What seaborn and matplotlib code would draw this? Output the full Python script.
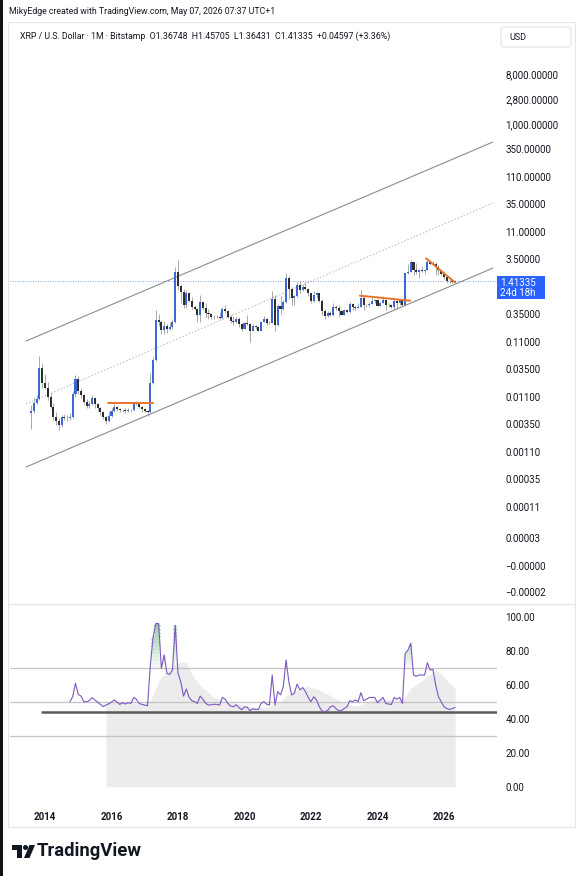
import numpy as np
import pandas as pd
import matplotlib
matplotlib.use('Agg')
import matplotlib.pyplot as plt
from matplotlib.patches import Rectangle, FancyBboxPatch, Circle, Polygon
from matplotlib.ticker import NullLocator
import seaborn as sns

# --- monthly XRP / USD candles (Bitstamp), Aug 2013 .. May 2026 ---
first_month = '2013-08-01'
first_open = 0.0056
closes = [
    0.0060, 0.0085, 0.0101, 0.036, 0.0195,
    0.016, 0.011, 0.0073, 0.0048, 0.0040, 0.0033, 0.0047, 0.0046, 0.0045, 0.0047, 0.0125, 0.023,
    0.0140, 0.0118, 0.0090, 0.0074, 0.0080, 0.0105, 0.0080, 0.0068, 0.0058, 0.0048, 0.0040, 0.0050,
    0.0061, 0.0072, 0.0066, 0.0062, 0.0063, 0.0061, 0.0063, 0.0062, 0.0085, 0.0082, 0.0072, 0.0065,
    0.0061, 0.0057, 0.0195, 0.051, 0.27, 0.25, 0.18, 0.21, 0.19, 0.20, 0.25, 2.05,
    1.12, 0.90, 0.51, 0.84, 0.61, 0.47, 0.44, 0.33, 0.58, 0.46, 0.37, 0.35,
    0.31, 0.31, 0.31, 0.30, 0.43, 0.40, 0.31, 0.26, 0.25, 0.29, 0.23, 0.19,
    0.24, 0.23, 0.17, 0.21, 0.20, 0.175, 0.25, 0.28, 0.24, 0.24, 0.67, 0.22,
    0.50, 0.44, 0.57, 1.60, 1.00, 0.70, 0.75, 1.18, 0.95, 1.09, 1.02, 0.83,
    0.61, 0.78, 0.83, 0.60, 0.40, 0.32, 0.37, 0.34, 0.48, 0.46, 0.39, 0.34,
    0.41, 0.38, 0.54, 0.47, 0.46, 0.47, 0.70, 0.51, 0.51, 0.54, 0.60, 0.62,
    0.50, 0.55, 0.63, 0.51, 0.52, 0.47, 0.60, 0.56, 0.64, 0.52, 1.97, 2.08,
    3.11, 2.19, 2.08, 2.20, 2.14, 2.18, 3.08, 2.85, 2.84, 2.50, 2.20, 1.85,
    1.65, 1.42, 1.37, 1.36748, 1.41335,
]
highs = [
    0.0078, 0.0105, 0.0120, 0.060, 0.045,
    0.028, 0.020, 0.013, 0.0085, 0.0058, 0.0045, 0.0052, 0.0054, 0.0052, 0.0055, 0.0140, 0.027,
    0.026, 0.0160, 0.0125, 0.0098, 0.0092, 0.0120, 0.0110, 0.0085, 0.0072, 0.0060, 0.0050, 0.0058,
    0.0070, 0.0082, 0.0075, 0.0068, 0.0066, 0.0070, 0.0068, 0.0067, 0.0090, 0.0092, 0.0085, 0.0075,
    0.0068, 0.0063, 0.030, 0.058, 0.42, 0.35, 0.27, 0.26, 0.23, 0.25, 0.28, 2.50,
    3.30, 1.25, 1.00, 0.95, 0.87, 0.71, 0.52, 0.45, 0.78, 0.59, 0.55, 0.44,
    0.37, 0.34, 0.33, 0.38, 0.48, 0.51, 0.41, 0.33, 0.32, 0.31, 0.31, 0.23,
    0.25, 0.34, 0.24, 0.23, 0.22, 0.21, 0.26, 0.32, 0.30, 0.26, 0.91, 0.79,
    0.53, 0.76, 0.63, 1.96, 1.75, 1.10, 0.77, 1.35, 1.41, 1.25, 1.35, 1.05,
    0.86, 0.91, 0.87, 0.86, 0.65, 0.43, 0.39, 0.39, 0.56, 0.52, 0.52, 0.41,
    0.43, 0.42, 0.59, 0.55, 0.49, 0.55, 0.94, 0.75, 0.53, 0.58, 0.74, 0.67,
    0.67, 0.59, 0.74, 0.63, 0.55, 0.53, 0.66, 0.64, 0.66, 0.64, 1.99, 2.90,
    3.40, 3.15, 3.00, 2.27, 2.65, 2.34, 3.66, 3.39, 3.18, 3.10, 2.70, 2.22,
    2.05, 1.75, 1.55, 1.48, 1.45705,
]
lows = [
    0.0028, 0.0055, 0.0080, 0.0095, 0.016,
    0.015, 0.0095, 0.0068, 0.0042, 0.0034, 0.0027, 0.0031, 0.0041, 0.0040, 0.0041, 0.0045, 0.011,
    0.0125, 0.0105, 0.0082, 0.0068, 0.0070, 0.0078, 0.0070, 0.0060, 0.0052, 0.0044, 0.0035, 0.0038,
    0.0048, 0.0058, 0.0060, 0.0057, 0.0058, 0.0055, 0.0057, 0.0058, 0.0060, 0.0077, 0.0068, 0.0059,
    0.0057, 0.0050, 0.0055, 0.019, 0.050, 0.21, 0.15, 0.15, 0.16, 0.18, 0.19, 0.24,
    0.95, 0.56, 0.45, 0.45, 0.58, 0.43, 0.42, 0.25, 0.25, 0.41, 0.31, 0.29,
    0.29, 0.28, 0.30, 0.28, 0.29, 0.37, 0.30, 0.24, 0.22, 0.24, 0.20, 0.17,
    0.19, 0.22, 0.11, 0.17, 0.19, 0.17, 0.17, 0.25, 0.22, 0.23, 0.24, 0.17,
    0.21, 0.35, 0.41, 0.56, 0.65, 0.51, 0.51, 0.72, 0.86, 0.93, 0.95, 0.75,
    0.55, 0.59, 0.69, 0.59, 0.33, 0.28, 0.31, 0.32, 0.32, 0.42, 0.31, 0.33,
    0.33, 0.36, 0.36, 0.42, 0.41, 0.45, 0.47, 0.42, 0.47, 0.48, 0.54, 0.56,
    0.49, 0.49, 0.55, 0.42, 0.47, 0.46, 0.42, 0.43, 0.52, 0.50, 0.50, 1.89,
    2.00, 1.77, 1.89, 1.61, 2.07, 1.90, 2.18, 2.70, 2.69, 1.77, 1.82, 1.77,
    1.55, 1.30, 1.28, 1.30, 1.36431,
]

rsi_start = '2014-10-01'
rsi = [
    50, 53, 60.8, 54.3, 53.3, 50, 50, 50.6, 52.4, 51, 49.8, 48.4, 47.1, 48, 48.8,
    49.8, 51, 49.8, 48.4, 49.4, 48.6, 49.4, 49, 52.5, 51.4, 49, 48.4, 48, 47.6,
    71, 88, 96, 96, 69.6, 77.5, 66.7, 66, 68.6, 95,
    66.7, 61.8, 53.3, 57.5, 52.5, 50.6, 50, 49, 53.3, 51.4, 49, 48,
    48.2, 48.5, 48.4, 48, 52.5, 51.5, 49, 47.4, 47, 48.2, 46.5, 45.3,
    47, 46.7, 44.7, 45.8, 45.5, 45.5, 49, 50, 48.5, 48, 65.7, 48,
    55.9, 54, 58.8, 74.5, 61.8, 54, 55, 60.4, 56.9, 58.4, 55.9, 52.5,
    50, 52.9, 51, 47, 44.5, 44.2, 44.8, 47, 47.6, 46, 44.7, 44.9,
    46, 47, 50.6, 50, 51, 50, 55.3, 50.6, 51.4, 52.5, 52.5, 52.5,
    49.4, 51, 52.5, 49, 48.6, 48.4, 52.5, 51.4, 52.5, 49, 78.4, 80.4,
    84.3, 65.7, 65, 65.7, 65.7, 65.7, 72.9, 68.6, 69, 59.8, 52.9, 50,
    47, 46, 45.5, 45.9, 46.7,
]
ma_start = '2015-11-01'
rsi_ma = [
    50.5, 50.0, 49.6, 49.5, 49.3, 49.2, 49.2, 49.1, 49.1, 49.1, 49.3, 49.5, 49.4, 49.3, 49.3, 49.3,
    51, 54, 58, 62, 64.5, 66.5, 68, 69.5, 70.8, 72, 72.7, 73.2, 73.5, 73,
    70, 66.5, 63.5, 61.5, 59.5, 58, 56.9, 55.5, 53.8, 52.5, 51.8, 51.2, 50.8,
    50.5, 50.2, 49.9, 49.5, 49.1, 48.7, 48.3, 48, 47.6, 47.3, 46.9, 46.7, 46.6,
    46.7, 46.9, 47.0, 47.2, 48.5, 48.7, 49.5, 50.1, 51.2, 53.3,
    54.5, 55.2, 55.9, 56.9, 57.5, 58.2, 58.7, 59.1, 58.1, 58.0,
    57.6, 56.9, 56.2, 55.0, 54.4, 53.6, 52.7, 51.8, 51.0, 50.2,
    49.5, 48.6, 48.0, 47.7, 47.6, 47.7, 48.3, 48.9, 49.6, 50.3,
    50.8, 51.2, 51.4, 51.5, 51.5, 51.3, 51.2, 51.0, 51.1, 51.1,
    51.0, 50.9, 53.3, 55.4, 57.8, 59.0, 60.1, 61.3, 62.4, 63.6,
    65.1, 66.3, 67.5, 68.3, 67.6, 66.3, 64.5, 62.4, 60.8, 59.4,
    58.0,
]
rsi_level = 44.1

# --- drawings on the price pane (decimal years, prices) ---
channel_years = [2013.43, 2027.47]
channel_upper = [0.113, 470.0]
channel_mid = [0.0081, 36.6]
channel_lower = [0.00058, 2.4]
flat_2016_years = [2015.90, 2017.24]
flat_2016_prices = [0.0083, 0.0083]
flat_2024_years = [2023.47, 2024.98]
flat_2024_prices = [0.756, 0.613]
fall_2025_years = [2025.46, 2026.33]
fall_2025_prices = [3.61, 1.32]
last_price = 1.41335

price_ticks = [8000, 2800, 1000, 350, 110, 35, 11, 3.5, 0.35, 0.11, 0.035, 0.011,
               0.0035, 0.0011, 0.00035, 0.00011, 0.00003, 9.2e-6, 3.1e-6]
price_labels = ['8,000.00000', '2,800.00000', '1,000.00000', '350.00000', '110.00000',
                '35.00000', '11.00000', '3.50000', '0.35000', '0.11000', '0.03500',
                '0.01100', '0.00350', '0.00110', '0.00035', '0.00011', '0.00003',
                '\u22120.00000', '\u22120.00002']
rsi_ticks = [0, 20, 40, 60, 80, 100]
year_ticks = [2014, 2016, 2018, 2020, 2022, 2024, 2026]


def decimal_year(start, n):
    d = pd.date_range(start, periods=n, freq='MS')
    return np.asarray(d.year + (d.month - 1) / 12.0, dtype=float)


sns.set_style('white')
plt.rcParams['font.family'] = ['Roboto', 'DejaVu Sans']
TXT = '#131722'
UP = '#3d67d6'
DOWN = '#2e2e2e'

W, H = 582, 876
fig = plt.figure(figsize=(W / 100, H / 100), dpi=100)


def box(l, t, r, b):
    return [l / W, 1 - b / H, (r - l) / W, (b - t) / H]


ax = fig.add_axes(box(10, 24, 497, 603))
ax_rsi = fig.add_axes(box(10, 605, 497, 800), sharex=ax)

# candles
df = pd.DataFrame({'x': decimal_year(first_month, len(closes)),
                   'open': [first_open] + closes[:-1],
                   'high': highs, 'low': lows, 'close': closes})
up = df['close'] >= df['open']
body_col = np.where(up, UP, DOWN)
ax.vlines(df['x'], df['low'], df['high'], color='#9a9a9a', lw=0.6, zorder=2)
bot = np.minimum(df['open'], df['close'])
top = np.maximum(df['open'], df['close'])
ax.bar(df['x'], top - bot, bottom=bot, width=0.062, color=body_col, linewidth=0, zorder=3)

ax.set_yscale('log')
ax.set_ylim(10 ** ((289 - 603) / 55), 10 ** ((289 - 24) / 55))
ax.set_xlim(2014 - 35 / 33.25, 2014 + 452 / 33.25)

# channel and trend drawings
ax.plot(channel_years, channel_upper, color='#8c8c8c', lw=0.8, zorder=1)
ax.plot(channel_years, channel_lower, color='#8c8c8c', lw=0.8, zorder=1)
ax.plot(channel_years, channel_mid, color='#b5b5b5', lw=0.7, ls=(0, (1.5, 2)), zorder=1)
for xs, ys in [(flat_2016_years, flat_2016_prices), (flat_2024_years, flat_2024_prices),
               (fall_2025_years, fall_2025_prices)]:
    ax.plot(xs, ys, color='#e8742c', lw=1.4, zorder=4)
ax.axhline(last_price, color='#5b86e5', lw=0.6, ls=(0, (1, 2)), zorder=1)

ax.yaxis.tick_right()
ax.set_yticks(price_ticks)
ax.set_yticklabels(price_labels)
ax.yaxis.set_minor_locator(NullLocator())
ax.tick_params(axis='y', length=0, pad=6, labelsize=7, labelcolor=TXT)
ax.tick_params(axis='x', bottom=False, labelbottom=False)
for s in ax.spines.values():
    s.set_visible(False)

# RSI pane
rx = decimal_year(rsi_start, len(rsi))
mx = decimal_year(ma_start, len(rsi_ma))
rsi_arr = np.array(rsi, dtype=float)
ax_rsi.fill_between(mx, 0, rsi_ma, color='#ececec', lw=0, zorder=0)
for lev in np.arange(70, 100, 2):
    ax_rsi.fill_between(rx, lev, np.clip(rsi_arr, lev, lev + 2), where=rsi_arr > lev,
                        interpolate=True, color='#2e9e4f', alpha=0.06 + 0.55 * (lev - 70) / 30,
                        lw=0, zorder=1)
for lev in (70, 50, 30):
    ax_rsi.axhline(lev, color='#c4c4c4', lw=0.9, zorder=1)
ax_rsi.hlines(rsi_level, 2013.88, 2028, color='#5a5a5a', lw=1.8, zorder=2)
sns.lineplot(x=rx, y=rsi_arr, ax=ax_rsi, color='#7e57c2', lw=0.8, zorder=3)
ax_rsi.set_ylim((786.7 - 800) / 1.7, (786.7 - 605) / 1.7)
ax_rsi.yaxis.tick_right()
ax_rsi.set_yticks(rsi_ticks)
ax_rsi.set_yticklabels([f'{v:.2f}' for v in rsi_ticks])
ax_rsi.tick_params(axis='y', length=0, pad=6, labelsize=7, labelcolor=TXT)
ax_rsi.set_xticks(year_ticks)
ax_rsi.set_xticklabels([str(y) for y in year_ticks], fontweight='bold')
ax_rsi.tick_params(axis='x', length=0, pad=9, labelsize=7, labelcolor=TXT)
ax_rsi.set_xlabel('')
ax_rsi.set_ylabel('')
for s in ax_rsi.spines.values():
    s.set_visible(False)

# overlay in pixel coordinates for the frame, header and badges
ov = fig.add_axes([0, 0, 1, 1])
ov.set_xlim(0, W)
ov.set_ylim(H, 0)
ov.axis('off')
ov.add_patch(Rectangle((0, 0), 3, H, color='#111111', lw=0))
ov.add_patch(Rectangle((8, 22), 567, 805, fill=False, ec='#e3e5ea', lw=0.8))
ov.plot([8, 575], [604, 604], color='#e3e5ea', lw=1)
ov.text(9, 11, 'MikyEdge created with TradingView.com, May 07, 2026 07:37 UTC+1',
        fontsize=6.3, color=TXT, va='center')
ov.text(20, 36.5, 'XRP / U.S. Dollar \u00b7 1M \u00b7 Bitstamp  O1.36748  H1.45705  '
        'L1.36431  C1.41335  +0.04597 (+3.36%)', fontsize=6.3, color=TXT, va='center')
ov.add_patch(FancyBboxPatch((501, 27), 70, 20, boxstyle='round,pad=0,rounding_size=3',
                            fc='white', ec='#e0e3eb', lw=0.8))
ov.text(509, 37, 'USD', fontsize=6.5, color=TXT, va='center')
ov.add_patch(Rectangle((497, 276), 48, 23, color='#2962ff', lw=0))
ov.text(500, 282.5, '1.41335', fontsize=7, color='white', va='center')
ov.text(500, 293.5, '24d 18h', fontsize=7, color='white', va='center')

# TradingView logo
ov.add_patch(Polygon([(12, 845), (22, 845), (22, 858), (17, 858), (17, 850), (12, 850)],
                     closed=True, color=TXT, lw=0))
ov.add_patch(Circle((25.5, 847.5), 2.5, color=TXT, lw=0))
ov.add_patch(Polygon([(24, 858), (29.5, 845), (35, 845), (29.5, 858)], closed=True,
                     color=TXT, lw=0))
ov.text(37, 851.5, 'TradingView', fontsize=13.3, fontweight='bold', color=TXT, va='center')

fig.savefig('out.png', dpi=100)
